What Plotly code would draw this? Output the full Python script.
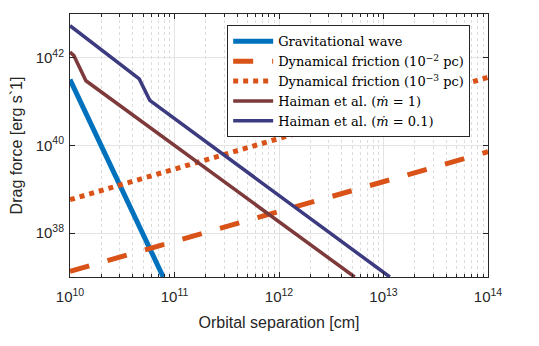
import plotly.graph_objects as go

# Orbital separation [cm] and drag force [erg/s] for each curve
gw_sep = [1.0e10, 7.8e10]
gw_drag = [3.2e41, 1.0e37]

df2_sep = [1.0e10, 1.0e14]
df2_drag = [1.35e37, 7.2e39]

df3_sep = [1.0e10, 1.0e14]
df3_drag = [5.8e38, 3.6e41]

h1_sep = [1.0e10, 1.09e10, 1.42e10, 5.3e12]
h1_drag = [1.35e42, 1.12e42, 3.0e41, 1.0e37]

h01_sep = [1.0e10, 4.6e10, 5.8e10, 1.15e13]
h01_drag = [5.4e42, 3.3e41, 1.07e41, 1.0e37]

x_ticks = [1e10, 1e11, 1e12, 1e13, 1e14]
x_labels = ["10<sup>10</sup>", "10<sup>11</sup>", "10<sup>12</sup>", "10<sup>13</sup>", "10<sup>14</sup>"]
y_ticks = [1e38, 1e40, 1e42]
y_labels = ["10<sup>38</sup>", "10<sup>40</sup>", "10<sup>42</sup>"]

blue = "#0072BD"
orange = "#D95319"
brown = "#7E3A3A"
navy = "#3C3B80"
ink = "#262626"

fig = go.Figure()
fig.add_trace(go.Scatter(x=gw_sep, y=gw_drag, mode="lines", name="Gravitational wave",
                         line=dict(color=blue, width=5)))
fig.add_trace(go.Scatter(x=df2_sep, y=df2_drag, mode="lines",
                         name="Dynamical friction (10<sup>−2</sup> pc)",
                         line=dict(color=orange, width=5, dash="20px,19px")))
fig.add_trace(go.Scatter(x=df3_sep, y=df3_drag, mode="lines",
                         name="Dynamical friction (10<sup>−3</sup> pc)",
                         line=dict(color=orange, width=5, dash="5px,5px")))
fig.add_trace(go.Scatter(x=h1_sep, y=h1_drag, mode="lines",
                         name="Haiman et al. (<i>ṁ</i> = 1)",
                         line=dict(color=brown, width=3.5)))
fig.add_trace(go.Scatter(x=h01_sep, y=h01_drag, mode="lines",
                         name="Haiman et al. (<i>ṁ</i> = 0.1)",
                         line=dict(color=navy, width=3.5)))

# minor ticks at 2..9 within each decade of the x axis
x_minor = [m * 10**d for d in range(10, 14) for m in range(2, 10)]

sans = "Liberation Sans, Arial, sans-serif"
serif = "DejaVu Serif"

axis_common = dict(
    type="log", showline=True, linecolor=ink, linewidth=1, mirror="allticks",
    ticks="inside", ticklen=5, tickcolor=ink,
    showgrid=True, gridcolor="#e4e4e4", gridwidth=1, zeroline=False,
    tickfont=dict(family=sans, size=15, color=ink),
    automargin=False,
)

fig.update_xaxes(**axis_common, range=[10, 14], tickvals=x_ticks, ticktext=x_labels,
                 ticklabelstandoff=6,
                 minor=dict(tickvals=x_minor, ticks="inside", ticklen=3, tickcolor=ink,
                            showgrid=True, gridcolor="#dddddd", griddash="dot", gridwidth=1),
                 title=dict(text="Orbital separation [cm]", standoff=12,
                            font=dict(family=sans, size=16, color=ink)))
fig.update_yaxes(**axis_common, range=[37, 43], tickvals=y_ticks, ticktext=y_labels,
                 ticklabelstandoff=2,
                 title=dict(text="Drag force [erg s`1]", standoff=10,
                            font=dict(family=sans, size=16, color=ink)))

# the page body adds an 8px offset, so margins are shifted to compensate
fig.update_layout(
    width=539, height=346,
    margin=dict(l=62, r=59, t=6, b=77),
    plot_bgcolor="white", paper_bgcolor="white",
    showlegend=True,
    legend=dict(x=0.376, y=0.957, xanchor="left", yanchor="top",
                bgcolor="white", bordercolor=ink, borderwidth=1,
                font=dict(family=serif, size=13, color="#000000"),
                tracegroupgap=0, itemwidth=40),
)

fig.write_html("out.html")
